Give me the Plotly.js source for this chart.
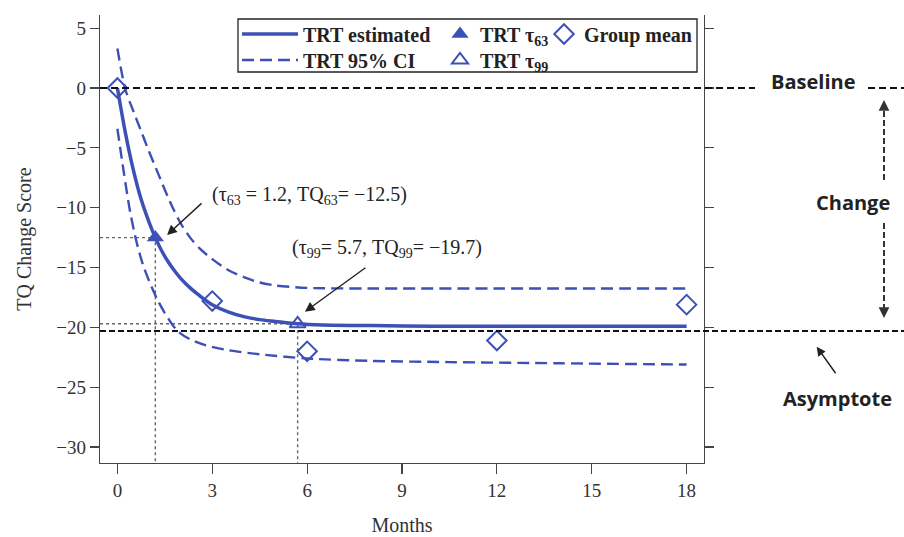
<!DOCTYPE html>
<html>
<head>
<meta charset="utf-8">
<script src="https://cdn.plot.ly/plotly-3.0.1.min.js"></script>
<style>html,body{margin:0;padding:0;background:#fff;}#chart{width:904px;height:537px;}</style>
</head>
<body>
<div id="chart"></div>
<script>
// ---- data ----
const months_fit = [0, 0.25, 0.5, 0.75, 1, 1.2, 1.4, 1.6, 1.8, 2, 2.3, 2.6, 3, 3.5, 4, 4.5, 5, 5.7, 6.5, 8, 10, 12, 15, 18];
const trt_estimated = [0, -3.7, -6.8, -9.3, -11.2, -12.5, -13.6, -14.5, -15.25, -15.9, -16.7, -17.35, -18.1, -18.7, -19.1, -19.35, -19.5, -19.7, -19.8, -19.85, -19.9, -19.9, -19.9, -19.9];

const months_ci_upper = [0, 0.25, 0.5, 0.75, 1, 1.25, 1.5, 1.75, 2, 2.3, 2.6, 3, 3.5, 4, 4.5, 5, 6, 8, 12, 18];
const trt_ci_upper = [3.3, -0.1, -1.9, -3.6, -5.3, -6.9, -8.5, -10.0, -11.3, -12.5, -13.4, -14.3, -15.2, -15.8, -16.25, -16.5, -16.7, -16.75, -16.75, -16.75];

const months_ci_lower = [0, 0.2, 0.4, 0.6, 0.8, 1, 1.25, 1.5, 1.9, 2.3, 2.8, 3.5, 4.5, 6, 8, 10.5, 14, 18];
const trt_ci_lower = [-3.4, -7.0, -10.3, -12.8, -14.7, -16.1, -17.6, -18.8, -20.3, -21.0, -21.5, -21.9, -22.25, -22.6, -22.8, -22.9, -23.0, -23.1];

const tau63 = [1.2];
const tq63 = [-12.5];
const tau99 = [5.7];
const tq99 = [-19.7];

const group_months = [0, 3, 6, 12, 18];
const group_mean = [0, -17.8, -22.0, -21.1, -18.1];

const baseline_level = 0;
const asymptote_level = -20.3;

const x_ticks = [0, 3, 6, 9, 12, 15, 18];
const y_ticks = [-30, -25, -20, -15, -10, -5, 0, 5];

// ---- styling ----
const BLUE = '#3d50b6';
const SERIF = 'Liberation Serif, Times New Roman, serif';
const SANS = 'Open Sans, Liberation Sans, Arial, sans-serif';
const XR = [-0.55, 18.55];
const YR = [-31.33, 6.1];
const L = 100, R = 200, T = 15, B = 74, W = 904, H = 537;
const PW = W - L - R, PH = H - T - B;
const px = v => (v - L) / PW;
const py = v => (H - B - v) / PH;

const traces = [
  { x: [XR[0], tau63[0], tau63[0]], y: [tq63[0], tq63[0], YR[0]], mode: 'lines',
    line: { color: '#666', width: 1.4, dash: '3px,3px' }, showlegend: false, hoverinfo: 'skip' },
  { x: [XR[0], tau99[0], tau99[0]], y: [tq99[0], tq99[0], YR[0]], mode: 'lines',
    line: { color: '#666', width: 1.4, dash: '3px,3px' }, showlegend: false, hoverinfo: 'skip' },
  { x: months_ci_upper, y: trt_ci_upper, mode: 'lines', name: 'TRT 95% CI', legend: 'legend2',
    line: { color: BLUE, width: 2.4, dash: '12px,6px', shape: 'spline', smoothing: 0.8 } },
  { x: months_ci_lower, y: trt_ci_lower, mode: 'lines', name: 'TRT 95% CI lower', showlegend: false,
    line: { color: BLUE, width: 2.4, dash: '12px,6px', shape: 'spline', smoothing: 0.8 } },
  { x: months_fit, y: trt_estimated, mode: 'lines', name: 'TRT estimated', legend: 'legend',
    line: { color: BLUE, width: 3.5, shape: 'spline', smoothing: 0.8 } },
  { x: tau63, y: tq63, mode: 'markers', name: 'TRT τ<sub>63</sub>', legend: 'legend3',
    marker: { symbol: 'triangle-up', size: 15, color: BLUE } },
  { x: tau99, y: tq99, mode: 'markers', name: 'TRT τ<sub>99</sub>', legend: 'legend4',
    marker: { symbol: 'triangle-up-open', size: 14, color: BLUE, line: { width: 2, color: BLUE } } },
  { x: group_months, y: group_mean, mode: 'markers', name: 'Group mean', legend: 'legend5',
    marker: { symbol: 'diamond-open', size: 15, color: BLUE, line: { width: 2, color: BLUE } } }
];

const legendBase = {
  bgcolor: 'rgba(0,0,0,0)', borderwidth: 0,
  font: { family: SERIF, size: 20, color: '#222', weight: 'bold' },
  xanchor: 'left', yanchor: 'middle', orientation: 'v'
};
const row1 = py(34), row2 = py(60);

const shapes = [
  // baseline (with a gap for its label) and asymptote
  { type: 'line', xref: 'paper', yref: 'y', x0: 0, x1: px(755), y0: baseline_level, y1: baseline_level,
    line: { color: '#111', width: 2, dash: '7px,4px' } },
  { type: 'line', xref: 'paper', yref: 'y', x0: px(868), x1: px(904), y0: baseline_level, y1: baseline_level,
    line: { color: '#111', width: 2, dash: '7px,4px' } },
  { type: 'line', xref: 'paper', yref: 'y', x0: 0, x1: px(904), y0: asymptote_level, y1: asymptote_level,
    line: { color: '#111', width: 2, dash: '6px,3px' } },
  // legend frame
  { type: 'rect', xref: 'paper', yref: 'paper', x0: px(238), x1: px(697), y0: py(72), y1: py(19),
    line: { color: '#222', width: 1.3 }, fillcolor: 'rgba(0,0,0,0)' },
  // dashed "change" arrows
  { type: 'line', xref: 'paper', yref: 'paper', x0: px(884), x1: px(884), y0: py(180), y1: py(110),
    line: { color: '#333', width: 2, dash: '6px,3px' } },
  { type: 'line', xref: 'paper', yref: 'paper', x0: px(884), x1: px(884), y0: py(223), y1: py(308),
    line: { color: '#333', width: 2, dash: '6px,3px' } }
];

const annFont = { family: SERIF, size: 20, color: '#222' };
const sideFont = { family: SANS, size: 20, color: '#222', weight: 'bold' };
const fmtNeg = v => '\u2212' + Math.abs(v);

const annotations = [
  { xref: 'x', yref: 'y', x: 6.09, y: -8.94, showarrow: false, font: annFont, xanchor: 'center', yanchor: 'middle',
    text: '(τ<sub>63</sub> = ' + tau63[0] + ', TQ<sub>63</sub>= ' + fmtNeg(tq63[0]) + ')' },
  { xref: 'x', yref: 'y', x: 8.52, y: -13.45, showarrow: false, font: annFont, xanchor: 'center', yanchor: 'middle',
    text: '(τ<sub>99</sub>= ' + tau99[0] + ', TQ<sub>99</sub>= ' + fmtNeg(tq99[0]) + ')' },
  { xref: 'x', yref: 'y', x: 1.57, y: -12.28, ax: 36, ay: -33, text: '', showarrow: true,
    arrowhead: 2, arrowsize: 1.4, arrowwidth: 1.4, arrowcolor: '#222' },
  { xref: 'x', yref: 'y', x: 5.93, y: -18.69, ax: 62, ay: -45, text: '', showarrow: true,
    arrowhead: 2, arrowsize: 1.4, arrowwidth: 1.4, arrowcolor: '#222' },
  { xref: 'paper', yref: 'paper', x: px(812.7), y: py(81.7), text: 'Baseline', showarrow: false, font: sideFont,
    xanchor: 'center', yanchor: 'middle' },
  { xref: 'paper', yref: 'paper', x: px(853), y: py(203), text: 'Change', showarrow: false, font: sideFont,
    xanchor: 'center', yanchor: 'middle' },
  { xref: 'paper', yref: 'paper', x: px(837.5), y: py(398), text: 'Asymptote', showarrow: false, font: sideFont,
    xanchor: 'center', yanchor: 'middle' },
  { xref: 'paper', yref: 'paper', x: px(884), y: py(100), ax: 0, ay: 10, text: '', showarrow: true,
    arrowhead: 2, arrowsize: 1.2, arrowwidth: 1.8, arrowcolor: '#333' },
  { xref: 'paper', yref: 'paper', x: px(884), y: py(318), ax: 0, ay: -10, text: '', showarrow: true,
    arrowhead: 2, arrowsize: 1.2, arrowwidth: 1.8, arrowcolor: '#333' },
  { xref: 'paper', yref: 'paper', x: px(816.7), y: py(346.7), ax: 20, ay: 28, text: '', showarrow: true,
    arrowhead: 2, arrowsize: 1.2, arrowwidth: 1.5, arrowcolor: '#222' }
];

const axisCommon = {
  showgrid: false, zeroline: false, showline: true, linecolor: '#444', linewidth: 1.2,
  ticks: 'outside', tickcolor: '#444', tickwidth: 1.2,
  tickfont: { family: SERIF, size: 19, color: '#333' }
};

const layout = {
  width: W, height: H,
  margin: { l: L, r: R, t: T, b: B, pad: 0 },
  paper_bgcolor: '#fff', plot_bgcolor: '#fff',
  xaxis: Object.assign({}, axisCommon, {
    range: XR, tickvals: x_ticks, ticktext: x_ticks.map(String), ticklen: 10, mirror: false,
    title: { text: 'Months', font: { family: SERIF, size: 20, color: '#333' }, standoff: 18 }
  }),
  yaxis: Object.assign({}, axisCommon, {
    range: YR, tickvals: y_ticks, ticktext: y_ticks.map(v => v < 0 ? '\u2212' + Math.abs(v) : String(v)),
    ticklen: 9, mirror: 'ticks',
    title: { text: 'TQ Change Score', font: { family: SERIF, size: 20, color: '#333' }, standoff: 19 }
  }),
  legend: Object.assign({}, legendBase, { x: px(237), y: row1, itemwidth: 56 }),
  legend2: Object.assign({}, legendBase, { x: px(237), y: row2, itemwidth: 56 }),
  legend3: Object.assign({}, legendBase, { x: px(440), y: row1 }),
  legend4: Object.assign({}, legendBase, { x: px(440), y: row2 }),
  legend5: Object.assign({}, legendBase, { x: px(544), y: row1 }),
  shapes: shapes,
  annotations: annotations,
  showlegend: true
};

Plotly.newPlot('chart', traces, layout, { displayModeBar: false, staticPlot: true });
</script>
</body>
</html>
